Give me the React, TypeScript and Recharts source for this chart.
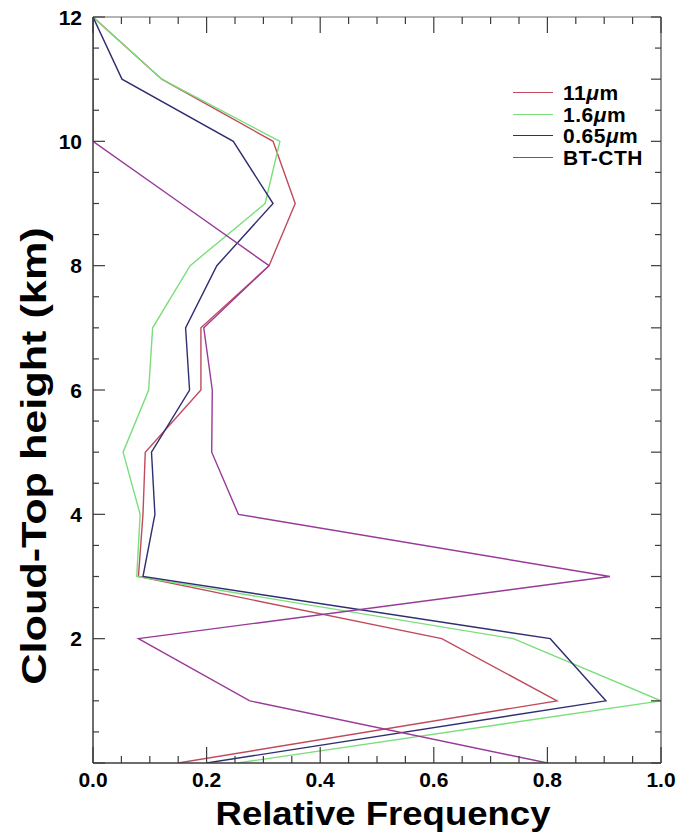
import React from 'react';
import { LineChart, Line, XAxis, YAxis, Legend } from 'recharts';

// Cloud-top height bins (km)
const heights = [0, 1, 2, 3, 4, 5, 6, 7, 8, 9, 10, 11, 12];

// Relative frequency per height bin for each retrieval
const freq11um = [0.15, 0.817, 0.614, 0.08, 0.088, 0.092, 0.19, 0.19, 0.31, 0.356, 0.317, 0.121, 0.0];
const freq16um = [0.255, 1.0, 0.74, 0.077, 0.083, 0.053, 0.098, 0.105, 0.171, 0.303, 0.329, 0.121, 0.0];
const freq065um = [0.2, 0.903, 0.805, 0.088, 0.109, 0.103, 0.17, 0.163, 0.218, 0.317, 0.247, 0.051, 0.0];
const freqBtCth = [0.8, 0.276, 0.08, 0.91, 0.256, 0.209, 0.21, 0.195, 0.31, 0.155, 0.0, 0.0, 0.0];

// Axis ticks
const xTicks = [0, 0.05, 0.1, 0.15, 0.2, 0.25, 0.3, 0.35, 0.4, 0.45, 0.5, 0.55, 0.6, 0.65, 0.7, 0.75, 0.8, 0.85, 0.9, 0.95, 1.0];
const xLabelled = [0, 0.2, 0.4, 0.6, 0.8, 1.0];
const yTicks = [0, 0.5, 1, 1.5, 2, 2.5, 3, 3.5, 4, 4.5, 5, 5.5, 6, 6.5, 7, 7.5, 8, 8.5, 9, 9.5, 10, 10.5, 11, 11.5, 12];
const yLabelled = [2, 4, 6, 8, 10, 12];

const series = [
  { key: 'ir11', base: '11', color: '#c04a5c', values: freq11um },
  { key: 'nir16', base: '1.6', color: '#7ade7a', values: freq16um },
  { key: 'vis065', base: '0.65', color: '#2e2e70', values: freq065um },
  { key: 'btcth', base: 'BT-CTH', color: '#983a98', values: freqBtCth },
];

const data = heights.map((h, i) => {
  const row: Record<string, number> = { h };
  series.forEach((s) => {
    row[s.key] = s.values[i];
  });
  return row;
});

const FONT = '"Liberation Sans", Arial, Helvetica, sans-serif';
const AXIS = '#3c3c3c';

const has = (list: number[], v: number) => list.some((m) => Math.abs(m - v) < 1e-9);

const BottomTick = (props: any) => {
  const { x, y, payload } = props;
  const v = payload.value as number;
  const major = has(xLabelled, v);
  return (
    <g>
      <line x1={x} y1={y} x2={x} y2={y - (major ? 16 : 7)} stroke={AXIS} strokeWidth={1.2} />
      {major && (
        <text x={x} y={y + 24} textAnchor="middle" fontFamily={FONT} fontWeight="bold" fontSize={21} fill="#000">
          {v.toFixed(1)}
        </text>
      )}
    </g>
  );
};

const TopTick = (props: any) => {
  const { x, y, payload } = props;
  const major = has(xLabelled, payload.value);
  return <line x1={x} y1={y} x2={x} y2={y + (major ? 16 : 7)} stroke={AXIS} strokeWidth={1.2} />;
};

const LeftTick = (props: any) => {
  const { x, y, payload } = props;
  const v = payload.value as number;
  const major = has(yLabelled, v) || v === 0;
  return (
    <g>
      <line x1={x} y1={y} x2={x + (major ? 12 : 6)} y2={y} stroke={AXIS} strokeWidth={1.2} />
      {has(yLabelled, v) && (
        <text x={x - 11} y={y} dy="0.36em" textAnchor="end" fontFamily={FONT} fontWeight="bold" fontSize={21} fill="#000">
          {v}
        </text>
      )}
    </g>
  );
};

const RightTick = (props: any) => {
  const { x, y, payload } = props;
  const v = payload.value as number;
  const major = Number.isInteger(v);
  return <line x1={x} y1={y} x2={x - (major ? 10 : 6)} y2={y} stroke={AXIS} strokeWidth={1.2} />;
};

const XTitle = (props: any) => {
  const vb = props.viewBox;
  return (
    <text
      x={vb.x + vb.width / 2 + 6}
      y={vb.y + 62}
      textAnchor="middle"
      fontFamily={FONT}
      fontWeight="bold"
      fontSize={34}
      textLength={335}
      lengthAdjust="spacingAndGlyphs"
      fill="#000"
    >
      Relative Frequency
    </text>
  );
};

// Rotated axis title, widened along its reading direction
const YTitle = (props: any) => {
  const vb = props.viewBox;
  const cx = vb.x + vb.width - 47;
  const cy = vb.y + vb.height / 2 + 66;
  return (
    <g transform={`translate(${cx} ${cy}) rotate(-90) scale(1.2 1)`}>
      <text x={0} y={0} textAnchor="middle" fontFamily={FONT} fontWeight="bold" fontSize={36} fill="#000">
        Cloud-Top height (km)
      </text>
    </g>
  );
};

const LegendBox = () => (
  <div style={{ fontFamily: FONT, fontWeight: 'bold', fontSize: 21, letterSpacing: 0.5, color: '#000' }}>
    {series.map((s) => (
      <div key={s.key} style={{ display: 'flex', alignItems: 'center', height: 21.5, lineHeight: '21.5px' }}>
        <span style={{ display: 'inline-block', width: 40, height: 0, borderTop: `1.5px solid ${s.color}`, marginRight: 10 }} />
        <span style={{ whiteSpace: 'nowrap' }}>
          {s.key === 'btcth' ? (
            s.base
          ) : (
            <>
              {s.base}
              <i>μ</i>m
            </>
          )}
        </span>
      </div>
    ))}
  </div>
);

export default function App() {
  return (
    <div style={{ position: 'absolute', left: 0, top: 0, background: '#fff' }}>
      <LineChart
        width={682}
        height={834}
        data={data}
        layout="vertical"
        margin={{ top: 16, right: 20, bottom: 70, left: 92 }}
      >
        <XAxis
          type="number"
          xAxisId="bottom"
          orientation="bottom"
          domain={[0, 1]}
          allowDataOverflow
          ticks={xTicks}
          interval={0}
          height={1}
          tickSize={0}
          tickMargin={0}
          tickLine={false}
          axisLine={{ stroke: AXIS, strokeWidth: 1.5 }}
          tick={<BottomTick />}
          label={<XTitle />}
        />
        <XAxis
          type="number"
          xAxisId="top"
          orientation="top"
          domain={[0, 1]}
          allowDataOverflow
          ticks={xTicks}
          interval={0}
          height={1}
          tickSize={0}
          tickMargin={0}
          tickLine={false}
          axisLine={{ stroke: '#6a6a6a', strokeWidth: 1.2 }}
          tick={<TopTick />}
        />
        <YAxis
          type="number"
          yAxisId="left"
          dataKey="h"
          orientation="left"
          domain={[0, 12]}
          reversed
          allowDataOverflow
          ticks={yTicks}
          interval={0}
          width={1}
          tickSize={0}
          tickMargin={0}
          tickLine={false}
          axisLine={{ stroke: AXIS, strokeWidth: 1.5 }}
          tick={<LeftTick />}
          label={<YTitle />}
        />
        <YAxis
          type="number"
          yAxisId="right"
          dataKey="h"
          orientation="right"
          domain={[0, 12]}
          reversed
          allowDataOverflow
          ticks={yTicks}
          interval={0}
          width={1}
          tickSize={0}
          tickMargin={0}
          tickLine={false}
          axisLine={{ stroke: '#555', strokeWidth: 1.3 }}
          tick={<RightTick />}
        />
        <Legend
          layout="vertical"
          align="center"
          verticalAlign="middle"
          wrapperStyle={{ position: 'absolute', left: 513, top: 82, width: 'auto' }}
          content={() => <LegendBox />}
        />
        {series.map((s) => (
          <Line
            key={s.key}
            xAxisId="bottom"
            yAxisId="left"
            dataKey={s.key}
            stroke={s.color}
            strokeWidth={1.4}
            dot={false}
            activeDot={false}
            isAnimationActive={false}
            type="linear"
          />
        ))}
      </LineChart>
    </div>
  );
}
